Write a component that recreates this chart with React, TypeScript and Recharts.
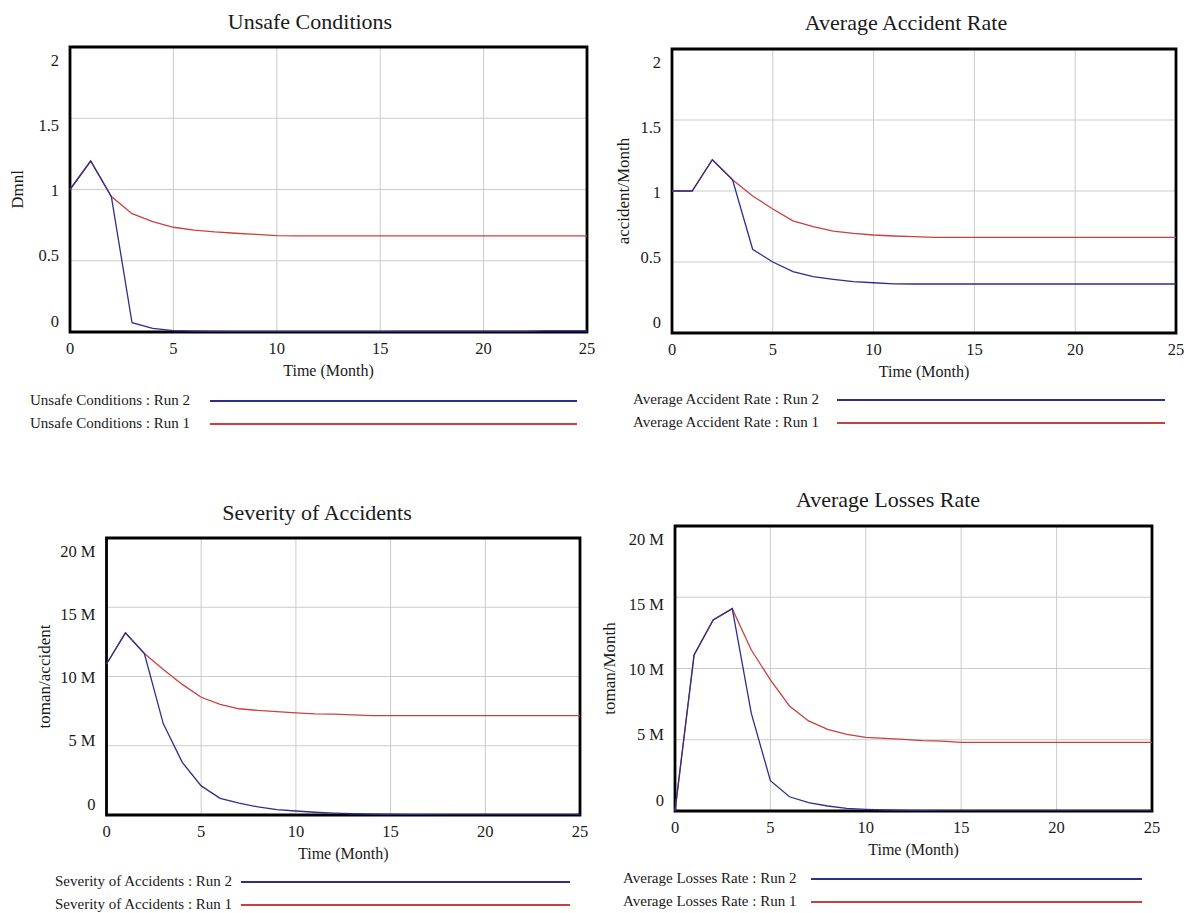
import React from 'react';
import { LineChart, Line, XAxis, YAxis, CartesianGrid, ReferenceArea, Legend, Label } from 'recharts';

// time axis (Month)
const months = [0, 1, 2, 3, 4, 5, 6, 7, 8, 9, 10, 11, 12, 13, 14, 15, 16, 17, 18, 19, 20, 21, 22, 23, 24, 25];
const monthTicks = [0, 5, 10, 15, 20, 25];

// Unsafe Conditions (Dmnl)
const unsafeRun1 = [1, 1.2, 0.95, 0.83, 0.775, 0.735, 0.715, 0.702, 0.693, 0.685, 0.676, 0.675, 0.674, 0.674, 0.674, 0.674, 0.674, 0.674, 0.674, 0.674, 0.674, 0.674, 0.674, 0.674, 0.674, 0.674];
const unsafeRun2 = [1, 1.2, 0.95, 0.065, 0.025, 0.01, 0.006, 0.004, 0.003, 0.002, 0.002, 0.002, 0.002, 0.002, 0.002, 0.002, 0.004, 0.004, 0.004, 0.004, 0.004, 0.004, 0.004, 0.008, 0.008, 0.008];
const unsafeTicks = [0, 0.5, 1, 1.5, 2];

// Average Accident Rate (accident/Month)
const accidentRun1 = [1, 1, 1.22, 1.08, 0.965, 0.873, 0.79, 0.749, 0.718, 0.702, 0.69, 0.683, 0.678, 0.674, 0.674, 0.674, 0.674, 0.674, 0.674, 0.674, 0.674, 0.674, 0.674, 0.674, 0.674, 0.674];
const accidentRun2 = [1, 1, 1.22, 1.08, 0.59, 0.5, 0.432, 0.397, 0.378, 0.362, 0.354, 0.346, 0.345, 0.345, 0.345, 0.345, 0.345, 0.345, 0.345, 0.345, 0.345, 0.345, 0.345, 0.345, 0.345, 0.345];
const accidentTicks = [0, 0.5, 1, 1.5, 2];

// Severity of Accidents (million toman/accident)
const severityRun1M = [10.9, 13.15, 11.66, 10.5, 9.43, 8.5, 7.98, 7.67, 7.55, 7.47, 7.38, 7.3, 7.28, 7.23, 7.18, 7.18, 7.18, 7.18, 7.18, 7.18, 7.18, 7.18, 7.18, 7.18, 7.18, 7.18];
const severityRun2M = [10.9, 13.15, 11.66, 6.58, 3.8, 2.1, 1.2, 0.85, 0.58, 0.39, 0.29, 0.2, 0.14, 0.09, 0.06, 0.04, 0.03, 0.02, 0.015, 0.01, 0.008, 0.006, 0.005, 0.004, 0.003, 0.002];

// Average Losses Rate (million toman/Month)
const lossesRun1M = [0, 10.95, 13.4, 14.2, 11.3, 9.2, 7.37, 6.32, 5.73, 5.38, 5.17, 5.1, 5.03, 4.94, 4.91, 4.82, 4.82, 4.82, 4.82, 4.82, 4.82, 4.82, 4.82, 4.82, 4.82, 4.82];
const lossesRun2M = [0, 10.95, 13.4, 14.2, 6.85, 2.13, 1.0, 0.58, 0.35, 0.19, 0.12, 0.07, 0.04, 0.025, 0.015, 0.01, 0.007, 0.005, 0.004, 0.003, 0.002, 0.002, 0.001, 0.001, 0.001, 0.001];

const MILLION = 1000000;
const moneyTicks = [0, 5 * MILLION, 10 * MILLION, 15 * MILLION, 20 * MILLION];

const PANEL_W = 595;
const PANEL_H = 456;
const Y_W = 60;
const X_H = 40;
const FONT = "'Liberation Serif', 'Times New Roman', serif";
const BLUE = '#2e2e8c';
const RED = '#c9413e';

const fmtPlain = (v: number) => String(v);
const fmtMillion = (v: number) => (v === 0 ? '0' : `${v / MILLION} M`);

interface PanelProps {
  title: string;
  unit: string;
  name: string;
  run1: number[];
  run2: number[];
  yTicks: number[];
  fmt: (v: number) => string;
  left: number;
  top: number;
  plot: { l: number; t: number; r: number; b: number };
  titleX: number;
  titleY: number;
  unitX: number;
  legendX: number;
  lineX1: number;
  lineX2: number;
  legendY: number;
}

const Panel: React.FC<PanelProps> = (p) => {
  const data = months.map((t, i) => ({ t, run1: p.run1[i], run2: p.run2[i] }));
  const yMax = p.yTicks[p.yTicks.length - 1];
  const plotCx = (p.plot.l + p.plot.r) / 2;
  const plotCy = (p.plot.t + p.plot.b) / 2;

  const yTick = (props: any) => {
    const v = props.payload.value;
    const shift = -11 + 24 * (v / yMax);
    return (
      <text x={props.x - 11} y={props.y + shift} textAnchor="end" dominantBaseline="central"
        fontFamily={FONT} fontSize={16.5} fill="#1a1a1a">
        {p.fmt(v)}
      </text>
    );
  };

  const xTick = (props: any) => (
    <text x={props.x} y={props.y + 16} textAnchor="middle" dominantBaseline="central"
      fontFamily={FONT} fontSize={16.5} fill="#1a1a1a">
      {props.payload.value}
    </text>
  );

  const rows = [
    { run: 'Run 2', color: BLUE },
    { run: 'Run 1', color: RED },
  ];

  const renderLegend = () => (
    <div style={{ position: 'relative', width: PANEL_W, height: PANEL_H }}>
      {rows.map((row, i) => (
        <React.Fragment key={row.run}>
          <div style={{
            position: 'absolute', left: p.legendX, top: p.legendY + i * 23, transform: 'translateY(-50%)',
            whiteSpace: 'nowrap', fontFamily: FONT, fontSize: 15, color: '#1a1a1a', lineHeight: '18px',
          }}>
            {p.name} : {row.run}
          </div>
          <div style={{
            position: 'absolute', left: p.lineX1, width: p.lineX2 - p.lineX1, top: p.legendY + i * 23,
            height: 1.5, background: row.color,
          }} />
        </React.Fragment>
      ))}
    </div>
  );

  return (
    <div style={{ position: 'absolute', left: p.left, top: p.top, width: PANEL_W, height: PANEL_H }}>
      <div style={{
        position: 'absolute', left: p.titleX, top: p.titleY, transform: 'translate(-50%, -50%)',
        whiteSpace: 'nowrap', fontFamily: FONT, fontSize: 22, color: '#1a1a1a',
      }}>
        {p.title}
      </div>
      <LineChart
        width={PANEL_W}
        height={PANEL_H}
        data={data}
        margin={{ top: p.plot.t, left: p.plot.l - Y_W, right: PANEL_W - p.plot.r, bottom: PANEL_H - p.plot.b - X_H }}
      >
        <CartesianGrid stroke="#cbcbcb" strokeWidth={1} />
        <XAxis dataKey="t" type="number" domain={[0, 25]} ticks={monthTicks} height={X_H}
          axisLine={false} tickLine={false} tickSize={0} tickMargin={0} tick={xTick} interval={0}>
          <Label content={() => (
            <text x={plotCx} y={p.plot.b + 38} textAnchor="middle" dominantBaseline="central"
              fontFamily={FONT} fontSize={16} fill="#1a1a1a">
              Time (Month)
            </text>
          )} />
        </XAxis>
        <YAxis type="number" domain={[0, yMax]} ticks={p.yTicks} width={Y_W} allowDataOverflow
          axisLine={false} tickLine={false} tickSize={0} tickMargin={0} tick={yTick} interval={0}>
          <Label content={() => (
            <text x={p.unitX} y={plotCy} textAnchor="middle" dominantBaseline="central"
              transform={`rotate(-90 ${p.unitX} ${plotCy})`}
              fontFamily={FONT} fontSize={17} fill="#1a1a1a">
              {p.unit}
            </text>
          )} />
        </YAxis>
        <Line type="linear" dataKey="run1" stroke={RED} strokeWidth={1.3} dot={false} activeDot={false} isAnimationActive={false} />
        <Line type="linear" dataKey="run2" stroke={BLUE} strokeWidth={1.3} dot={false} activeDot={false} isAnimationActive={false} />
        <ReferenceArea x1={0} x2={25} y1={0} y2={yMax} fill="none" fillOpacity={0} stroke="#000" strokeWidth={2.8} ifOverflow="visible" />
        <Legend layout="horizontal" verticalAlign="middle" align="center" content={renderLegend}
          wrapperStyle={{ left: 0, top: 0, width: PANEL_W, height: PANEL_H, pointerEvents: 'none' }} />
      </LineChart>
    </div>
  );
};

export default function App() {
  return (
    <div style={{ position: 'absolute', left: 0, top: 0, width: 1190, height: 913, background: '#fff', overflow: 'hidden' }}>
      <Panel
        title="Unsafe Conditions" unit="Dmnl" name="Unsafe Conditions"
        run1={unsafeRun1} run2={unsafeRun2} yTicks={unsafeTicks} fmt={fmtPlain}
        left={0} top={0} plot={{ l: 70, t: 47, r: 587, b: 332 }}
        titleX={310} titleY={22} unitX={17}
        legendX={30} lineX1={210} lineX2={577} legendY={400}
      />
      <Panel
        title="Average Accident Rate" unit="accident/Month" name="Average Accident Rate"
        run1={accidentRun1} run2={accidentRun2} yTicks={accidentTicks} fmt={fmtPlain}
        left={595} top={0} plot={{ l: 77, t: 49, r: 581, b: 333 }}
        titleX={311} titleY={23} unitX={28}
        legendX={38} lineX1={242} lineX2={570} legendY={399}
      />
      <Panel
        title="Severity of Accidents" unit="toman/accident" name="Severity of Accidents"
        run1={severityRun1M.map((v) => v * MILLION)} run2={severityRun2M.map((v) => v * MILLION)}
        yTicks={moneyTicks} fmt={fmtMillion}
        left={0} top={457} plot={{ l: 106.5, t: 81, r: 580, b: 358 }}
        titleX={317} titleY={56} unitX={44}
        legendX={55} lineX1={241} lineX2={570} legendY={424}
      />
      <Panel
        title="Average Losses Rate" unit="toman/Month" name="Average Losses Rate"
        run1={lossesRun1M.map((v) => v * MILLION)} run2={lossesRun2M.map((v) => v * MILLION)}
        yTicks={moneyTicks} fmt={fmtMillion}
        left={595} top={457} plot={{ l: 80, t: 69, r: 557, b: 354 }}
        titleX={293} titleY={43} unitX={14}
        legendX={28} lineX1={216} lineX2={547} legendY={421}
      />
    </div>
  );
}
